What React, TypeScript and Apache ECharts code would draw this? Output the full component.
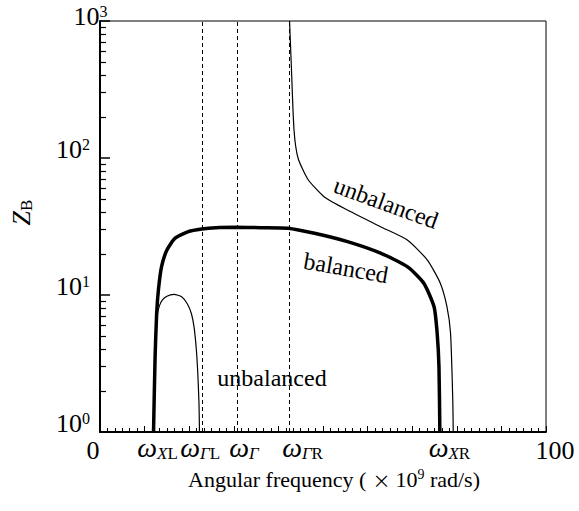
import React, { useEffect, useRef } from "react";
import * as echarts from "echarts";

// ---- data ----
const balancedX = [12.0, 12.35, 12.7, 13.1, 13.8, 15.0, 16.8, 19.8, 22.8, 26.0, 30.2, 36.0, 42.1, 48.1, 55.5, 62.9, 68.9, 72.6, 74.9, 75.6, 76.0, 76.2];
const balancedY = [1, 3.5, 7.3, 10.9, 16.1, 21.3, 25.9, 29.0, 30.3, 31.0, 31.2, 31.0, 30.7, 28.2, 24.5, 20.2, 16.1, 12.2, 8.2, 5.25, 3.0, 1];

const unbalancedLeftX = [12.0, 12.4, 12.8, 13.3, 14.0, 15.0, 16.6, 18.3, 19.6, 20.5, 21.1, 21.6, 21.9, 22.2, 22.3];
const unbalancedLeftY = [1, 4.0, 7.0, 8.3, 9.2, 9.8, 10.1, 9.7, 8.6, 7.3, 5.8, 4.0, 2.8, 1.6, 1];

const unbalancedRightX = [42.5, 42.9, 43.5, 44.4, 46.6, 50.3, 55.5, 62.9, 68.9, 73.4, 76.3, 77.8, 78.6, 79.1, 79.2];
const unbalancedRightY = [1000, 470, 160, 100, 70, 52, 41.7, 31.5, 25.2, 18.0, 12.2, 8.2, 5.25, 1.7, 1];

const dashedX = [22.9, 30.7, 42.5];
const omegaValues = [12.0, 22.9, 30.7, 42.5, 76.1];
const omegaSubMain = ["X", "Γ", "Γ", "Γ", "X"];
const omegaSubRoman = ["L", "L", "", "R", "R"];
const xEndValues = [0, 100];
const xEndLabels = ["0", "100"];
const yMinorTicks = [2, 3, 4, 5, 6, 7, 8, 9, 20, 30, 40, 50, 60, 70, 80, 90, 200, 300, 400, 500, 600, 700, 800, 900];

// label nudges (px) for the x labels, layout only
const omegaShift = [4, -2, 7, 13, 10];
const endShift = [-7, 9];

const SERIF = "Liberation Serif";
const TICK = "#000";

function pairs(xs: number[], ys: number[]) {
  return xs.map((x, i) => [x, ys[i]]);
}

export default function App() {
  const ref = useRef<HTMLDivElement>(null);
  useEffect(() => {
    if (!ref.current) return;
    const chart = echarts.init(ref.current, undefined, { renderer: "svg" });

    const omegaRich: any = {
      w: { fontFamily: SERIF, fontSize: 28, fontStyle: "italic", lineHeight: 30, color: "#000" },
      si: { fontFamily: SERIF, fontSize: 17, fontStyle: "italic", lineHeight: 16, verticalAlign: "bottom", color: "#000" },
      sr: { fontFamily: SERIF, fontSize: 17, lineHeight: 16, verticalAlign: "bottom", color: "#000" },
    };
    omegaShift.forEach((s, i) => {
      omegaRich["g" + i] = { width: Math.abs(s) * 2, fontSize: 10, lineHeight: 10 };
    });
    const endRich: any = {
      n: { fontFamily: SERIF, fontSize: 26, lineHeight: 30, color: "#000" },
    };
    endShift.forEach((s, i) => {
      endRich["e" + i] = { width: Math.abs(s) * 2, fontSize: 10, lineHeight: 10 };
    });

    const endFormatter = (v: number) => {
      const ei = xEndValues.findIndex((e) => Math.abs(e - v) < 1e-6);
      if (ei < 0) return "";
      const sp = `{e${ei}| }`;
      const t = `{n|${xEndLabels[ei]}}`;
      return endShift[ei] > 0 ? sp + t : t + sp;
    };

    const omegaFormatter = (v: number) => {
      const i = omegaValues.findIndex((o) => Math.abs(o - v) < 1e-6);
      if (i < 0) return "";
      let t = `{w|ω}{si|${omegaSubMain[i]}}`;
      if (omegaSubRoman[i]) t += `{sr|${omegaSubRoman[i]}}`;
      const sp = `{g${i}| }`;
      return omegaShift[i] > 0 ? sp + t : t + sp;
    };

    const yFormatter = (v: number) => {
      const e = Math.round(Math.log10(v));
      const sp = e === 3 ? "{h3| }" : "{h| }";
      return `{b|10}{p|${e}}${sp}`;
    };

    const option: any = {
      animation: false,
      grid: { left: 98, right: 33, top: 21, bottom: 79, show: true, borderColor: "#000", borderWidth: 1 },
      xAxis: [
        {
          type: "value",
          min: 0,
          max: 100,
          interval: 10,
          position: "bottom",
          axisLine: { show: true, onZero: false, lineStyle: { color: "#000", width: 2 } },
          axisTick: { show: true, inside: true, length: 6, lineStyle: { color: TICK, width: 1 } },
          minorTick: { show: true, splitNumber: 6, length: 4, lineStyle: { color: TICK, width: 1 } },
          splitLine: { show: false },
          axisLabel: { formatter: endFormatter, rich: endRich, margin: 3, color: "#000" },
          name: "{t|Angular frequency (}{x|×}{t|10}{s|9}{t| rad/s)}",
          nameLocation: "middle",
          nameGap: 31,
          nameTextStyle: {
            padding: [0, 0, 0, 22],
            rich: {
              t: { fontFamily: SERIF, fontSize: 22, lineHeight: 24, color: "#000" },
              x: { fontFamily: "Noto Sans CJK JP", fontSize: 18, lineHeight: 24, padding: [0, 5, 0, 6], color: "#000" },
              s: { fontFamily: SERIF, fontSize: 14, lineHeight: 12, verticalAlign: "top", color: "#000" },
            },
          },
        },
        {
          type: "value",
          min: 0,
          max: 100,
          position: "bottom",
          offset: 0,
          axisLine: { show: false, onZero: false },
          axisTick: { show: false },
          splitLine: { show: false },
          axisLabel: { customValues: omegaValues, formatter: omegaFormatter, rich: omegaRich, margin: 0, color: "#000" },
        },
      ],
      yAxis: [
        {
          type: "log",
          min: 1,
          max: 1000,
          position: "left",
          axisLine: { show: true, onZero: false, lineStyle: { color: "#000", width: 2 } },
          axisTick: { show: true, inside: true, length: 10, lineStyle: { color: TICK, width: 1.5 } },
          splitLine: { show: false },
          axisLabel: {
            margin: 9,
            verticalAlign: "middle",
            alignMaxLabel: "middle",
            formatter: yFormatter,
            rich: {
              b: { fontFamily: SERIF, fontSize: 26, lineHeight: 26, verticalAlign: "top", color: "#000" },
              p: { fontFamily: SERIF, fontSize: 16, lineHeight: 12, verticalAlign: "top", color: "#000" },
              h: { width: 1, fontSize: 10, lineHeight: 44 },
              h3: { width: 1, fontSize: 10, lineHeight: 36 },
            },
          },
          name: "{z|Z}{b|B}",
          nameLocation: "middle",
          nameRotate: 90,
          nameGap: 65,
          nameTextStyle: {
            padding: [0, 0, 0, 28],
            rich: {
              z: { fontFamily: SERIF, fontSize: 26, fontStyle: "italic", lineHeight: 28, color: "#000" },
              b: { fontFamily: SERIF, fontSize: 17, lineHeight: 16, verticalAlign: "bottom", color: "#000" },
            },
          },
        },
        {
          type: "log",
          min: 1,
          max: 1000,
          position: "left",
          axisLine: { show: false },
          axisTick: { show: true, inside: true, length: 6, customValues: yMinorTicks, lineStyle: { color: TICK, width: 1.2 } },
          axisLabel: { show: false },
          splitLine: { show: false },
        },
      ],
      series: [
        {
          name: "unbalanced-left",
          type: "line",
          data: pairs(unbalancedLeftX, unbalancedLeftY),
          showSymbol: false,
          smooth: 0.2,
          lineStyle: { color: "#000", width: 1.2 },
          markLine: {
            silent: true,
            symbol: ["none", "none"],
            label: { show: false },
            lineStyle: { color: "#000", width: 1, type: [4, 3] },
            data: dashedX.map((x) => ({ xAxis: x })),
          },
        },
        {
          name: "unbalanced-right",
          type: "line",
          data: pairs(unbalancedRightX, unbalancedRightY),
          showSymbol: false,
          smooth: 0.2,
          lineStyle: { color: "#000", width: 1.2 },
        },
        {
          name: "balanced",
          type: "line",
          data: pairs(balancedX, balancedY),
          showSymbol: false,
          smooth: 0.2,
          lineStyle: { color: "#000", width: 3.5 },
        },
      ],
      graphic: [
        {
          type: "text",
          x: 386,
          y: 203,
          rotation: -20 * Math.PI / 180,
          style: { text: "unbalanced", fontFamily: SERIF, fontSize: 24, fill: "#000", align: "center", verticalAlign: "middle" },
        },
        {
          type: "text",
          x: 346,
          y: 268,
          rotation: -10 * Math.PI / 180,
          style: { text: "balanced", fontFamily: SERIF, fontSize: 24, fill: "#000", align: "center", verticalAlign: "middle" },
        },
        {
          type: "text",
          x: 272,
          y: 378,
          style: { text: "unbalanced", fontFamily: SERIF, fontSize: 24, fill: "#000", align: "center", verticalAlign: "middle" },
        },
      ],
    };
    chart.setOption(option);
    return () => chart.dispose();
  }, []);
  return <div ref={ref} style={{ width: 579, height: 511, position: "absolute", left: 0, top: 0 }} />;
}
